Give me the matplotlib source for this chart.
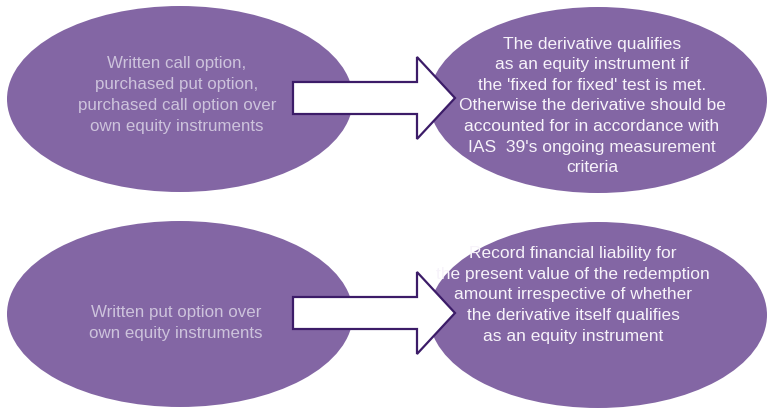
import matplotlib.pyplot as plt
from matplotlib.patches import Ellipse, Polygon

# Texts for the two rows of the diagram
left_texts = [
    "Written call option,\npurchased put option,\npurchased call option over\nown equity instruments",
    "Written put option over\nown equity instruments",
]
right_texts = [
    "The derivative qualifies\nas an equity instrument if\nthe 'fixed for fixed' test is met.\n"
    "Otherwise the derivative should be\naccounted for in accordance with\n"
    "IAS  39's ongoing measurement\ncriteria",
    "Record financial liability for\nthe present value of the redemption\n"
    "amount irrespective of whether\nthe derivative itself qualifies\nas an equity instrument",
]

# layout in pixel units (y down)
row_y = [99, 314]
left_ell = dict(x=180, w=346, h=186)
right_ell = dict(x=598, w=338, h=186)
arrow_shaft = (293, 417, 16)   # x start, head base x, half height
arrow_head = (41, 455)         # half height, tip x

purple = '#8366a4'
outline = '#3c1c68'

fig = plt.figure(figsize=(7.69, 4.08), dpi=100)
ax = fig.add_axes([0, 0, 1, 1])
ax.set_xlim(0, 769)
ax.set_ylim(408, 0)
ax.axis('off')

for i, y in enumerate(row_y):
    ax.add_patch(Ellipse((left_ell['x'], y), left_ell['w'], left_ell['h'],
                         facecolor=purple, edgecolor='none'))
    ax.add_patch(Ellipse((right_ell['x'], y + 1), right_ell['w'], right_ell['h'],
                         facecolor=purple, edgecolor='none'))

    x0, xb, hs = arrow_shaft
    hh, xt = arrow_head
    yc = y - 1
    pts = [(x0, yc - hs), (xb, yc - hs), (xb, yc - hh), (xt, yc),
           (xb, yc + hh), (xb, yc + hs), (x0, yc + hs)]
    ax.add_patch(Polygon(pts, closed=True, facecolor='white',
                         edgecolor=outline, linewidth=1.6, joinstyle='miter'))

ax.text(177, 95, left_texts[0], ha='center', va='center', fontsize=12.2,
        color='#cdc3dc', family='Liberation Sans', linespacing=1.48)
ax.text(176, 323, left_texts[1], ha='center', va='center', fontsize=12.2,
        color='#cdc3dc', family='Liberation Sans', linespacing=1.48)
ax.text(592, 106, right_texts[0], ha='center', va='center', fontsize=12.5,
        color='#f7f3fa', family='Liberation Sans', linespacing=1.47)
ax.text(573, 295, right_texts[1], ha='center', va='center', fontsize=12.5,
        color='#f7f3fa', family='Liberation Sans', linespacing=1.47)

fig.savefig('out.png', dpi=100, facecolor='white')
